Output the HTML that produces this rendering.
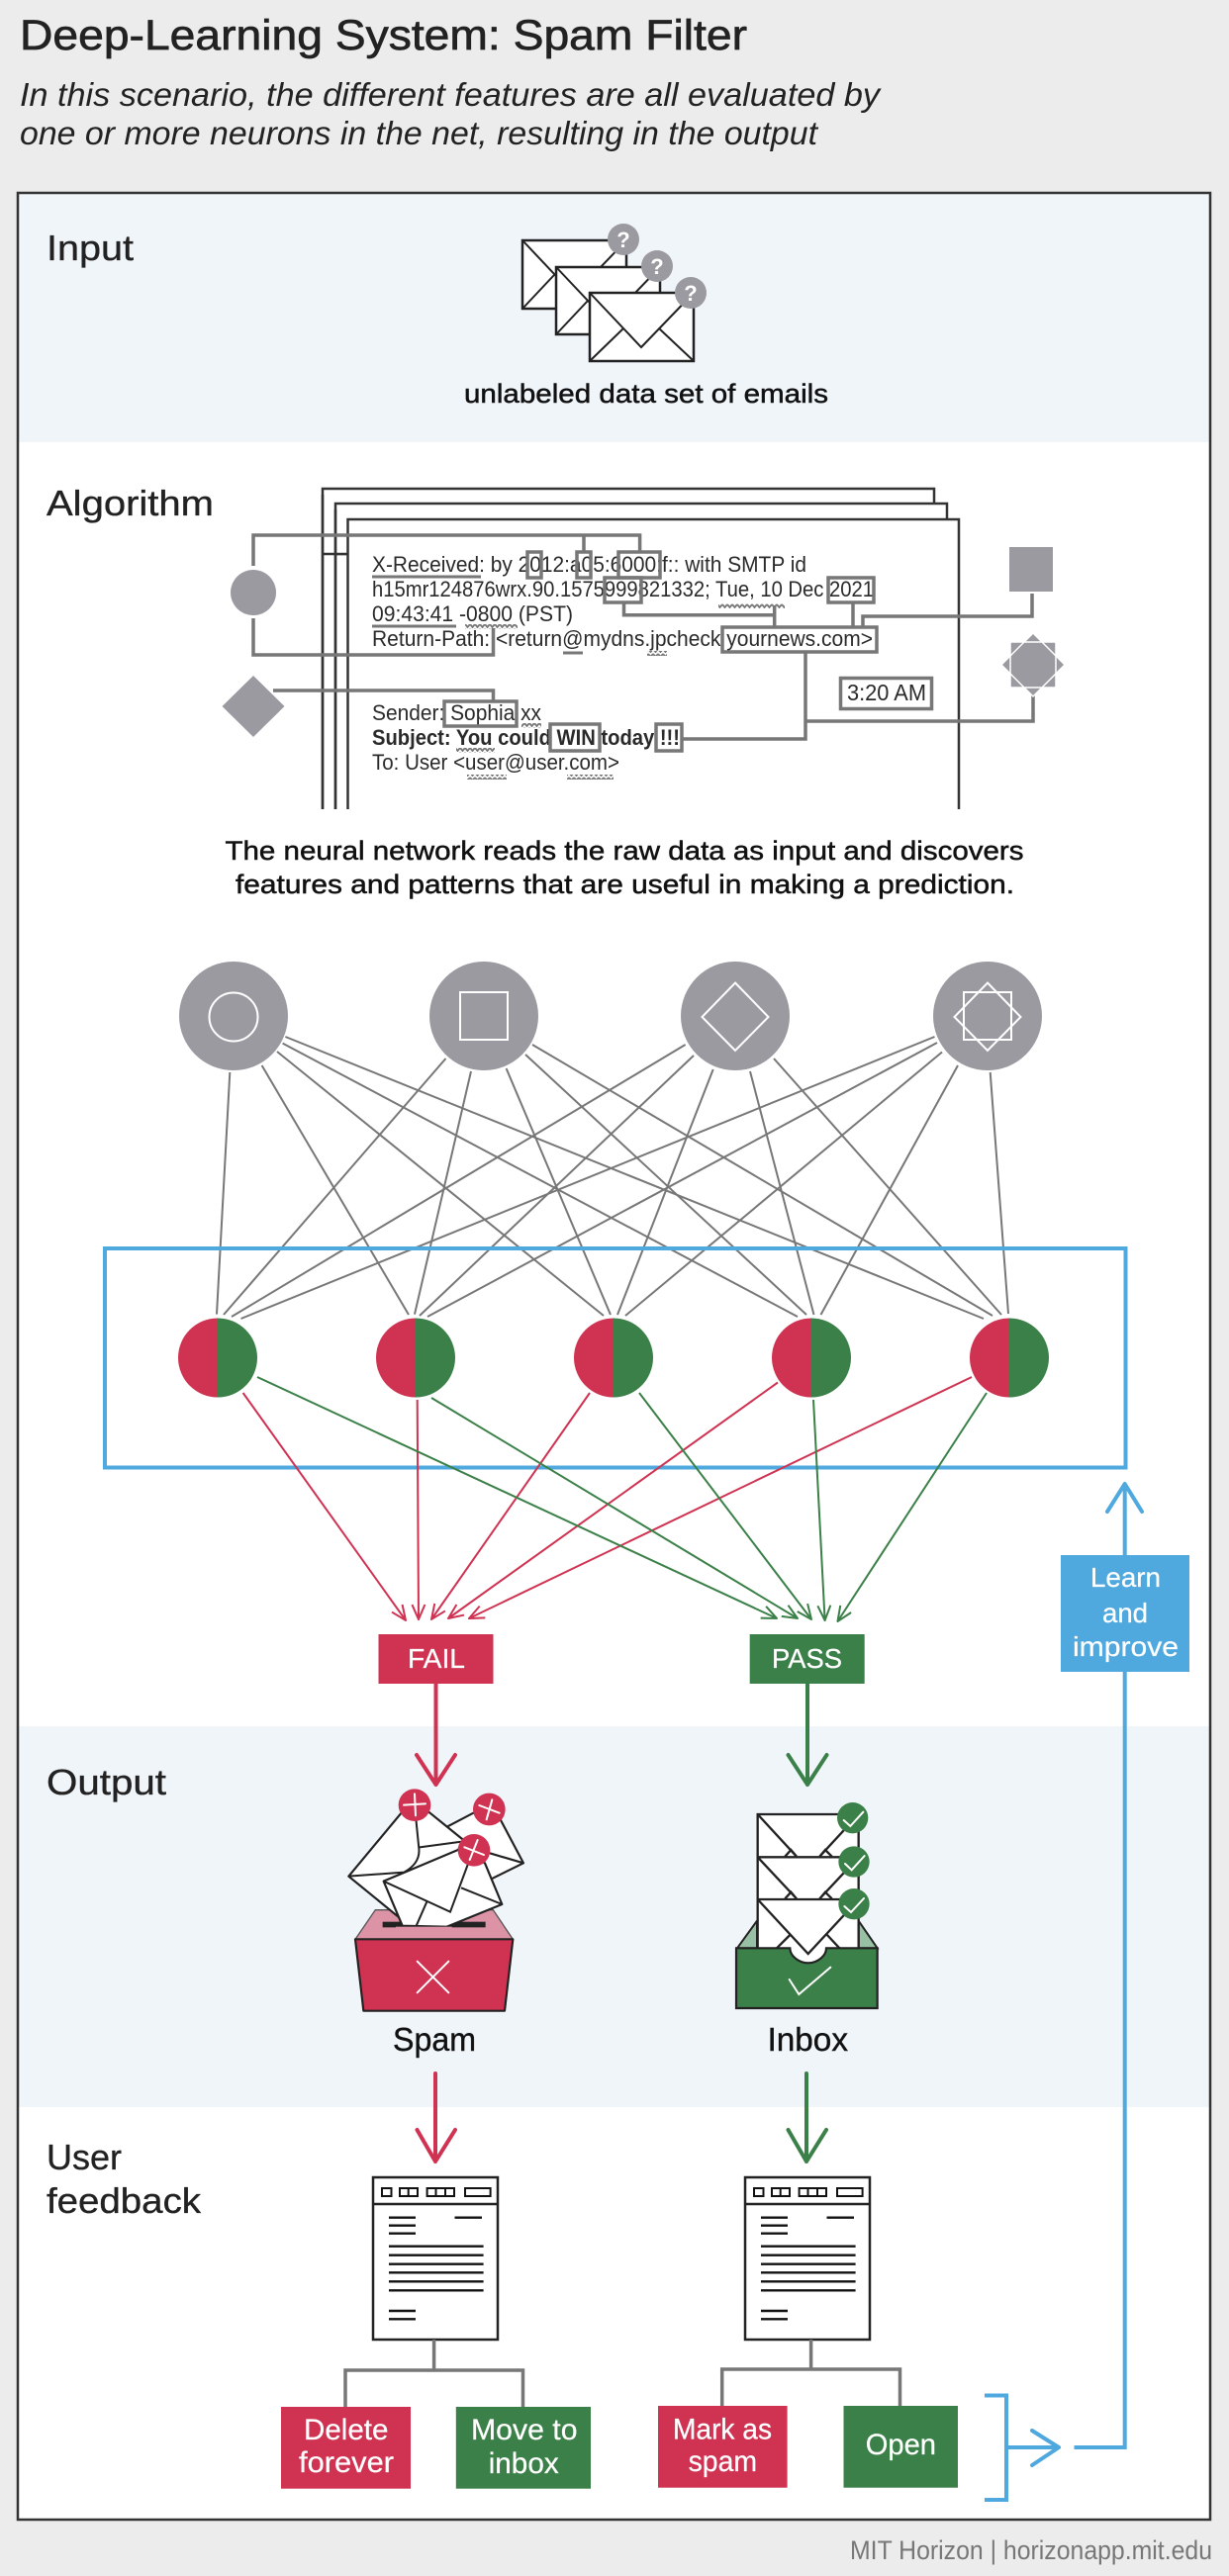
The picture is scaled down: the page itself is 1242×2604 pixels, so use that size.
<!DOCTYPE html>
<html><head><meta charset="utf-8"><title>Deep-Learning System: Spam Filter</title>
<style>
html,body{margin:0;padding:0;background:#ececec}
svg{display:block}
text{font-family:"Liberation Sans",sans-serif}
.e{font-size:22px;fill:#2a2a2a}
.c{font-size:27px;fill:#111;stroke:#111;stroke-width:.5}
.l{font-size:36px;fill:#222;stroke:#222;stroke-width:.35}
.w{font-size:30px;fill:#fff;stroke:#fff;stroke-width:.25}
.k{fill:none;stroke:#777;stroke-width:3.5}
.n line{stroke:#777;stroke-width:2}
.d{fill:#fff;stroke:#222;stroke-width:2.5}
.dl line{stroke:#111;stroke-width:2.4}
.env{fill:#fff;stroke:#222;stroke-width:6.5;stroke-linejoin:round}
</style></head><body>
<svg width="1242" height="2604" viewBox="0 0 1242 2604" xmlns="http://www.w3.org/2000/svg">
<defs>
<marker id="mr" markerUnits="userSpaceOnUse" markerWidth="17" markerHeight="16" refX="16" refY="8" orient="auto"><path d="M1,1.5 L16,8 L1,14.5" fill="none" stroke="#d03252" stroke-width="2"/></marker>
<marker id="mg" markerUnits="userSpaceOnUse" markerWidth="17" markerHeight="16" refX="16" refY="8" orient="auto"><path d="M1,1.5 L16,8 L1,14.5" fill="none" stroke="#3b8048" stroke-width="2"/></marker>
<pattern id="sq" patternUnits="userSpaceOnUse" width="5" height="5"><path d="M0,1 L2.5,4 L5,1" fill="none" stroke="#777" stroke-width="1.8"/></pattern>
</defs>
<rect width="1242" height="2604" fill="#ececec"/>

<text x="20" y="50" font-size="43" fill="#222" stroke="#222" stroke-width=".7" textLength="735" lengthAdjust="spacingAndGlyphs">Deep-Learning System: Spam Filter</text>
<text x="20" y="107" font-size="33" font-style="italic" fill="#222" textLength="869" lengthAdjust="spacingAndGlyphs">In this scenario, the different features are all evaluated by</text>
<text x="20" y="146" font-size="33" font-style="italic" fill="#222" textLength="806" lengthAdjust="spacingAndGlyphs">one or more neurons in the net, resulting in the output</text>

<!-- panel -->
<rect x="18" y="195" width="1205" height="2352" fill="#fff"/>
<rect x="18" y="195" width="1205" height="252" fill="#f0f5fa"/>
<rect x="18" y="1745" width="1205" height="385" fill="#f0f5fa"/>
<rect x="18" y="195" width="1205" height="2352" fill="none" stroke="#333" stroke-width="2.5"/>

<text class="l" x="47" y="263" textLength="88" lengthAdjust="spacingAndGlyphs">Input</text>
<text class="l" x="47" y="521" textLength="169" lengthAdjust="spacingAndGlyphs">Algorithm</text>
<text class="l" x="47" y="1814" textLength="121" lengthAdjust="spacingAndGlyphs">Output</text>
<text class="l" x="47" y="2193" textLength="76" lengthAdjust="spacingAndGlyphs">User</text>
<text class="l" x="47" y="2237" textLength="156" lengthAdjust="spacingAndGlyphs">feedback</text>

<!-- input envelopes -->
<g fill="#fff" stroke="#222" stroke-width="2.5">
<g><rect x="528" y="243" width="105" height="69"/><path d="M528,243 L580,298 L633,243 M528,312 L560,278 M633,312 L601,278" fill="none" stroke-width="2"/></g>
<g><rect x="562" y="270" width="105" height="68"/><path d="M562,270 L614,325 L667,270 M562,338 L594,304 M667,338 L635,304" fill="none" stroke-width="2"/></g>
<g><rect x="596" y="296" width="105" height="69"/><path d="M596,296 L648,351 L701,296 M597,364 L630,332 M700,364 L666,332" fill="none" stroke-width="2"/></g>
</g>
<g fill="#9b9aa1"><circle cx="630" cy="242" r="16"/><circle cx="664" cy="269" r="16"/><circle cx="698" cy="296" r="16"/></g>
<g fill="#fff" font-size="22" font-weight="bold" text-anchor="middle"><text x="630" y="250">?</text><text x="664" y="277">?</text><text x="698" y="304">?</text></g>
<text class="c" x="469" y="407" textLength="368" lengthAdjust="spacingAndGlyphs">unlabeled data set of emails</text>

<!-- pages -->
<g fill="#fff" stroke="#333" stroke-width="2.5">
<path d="M326,818 V494 H944 V560 H326"/>
<path d="M339,818 V509 H957 V560 H339"/>
<path d="M351.5,818 V525 H969 V818 H351.5" stroke="none"/>
<path d="M351.5,818 V525 H969 V818" fill="none"/>
</g>
<line x1="326" y1="500" x2="326" y2="818" stroke="#333" stroke-width="2.5"/>
<line x1="339" y1="515" x2="339" y2="818" stroke="#333" stroke-width="2.5"/>

<!-- email text -->
<text class="e" x="376" y="578" textLength="439" lengthAdjust="spacingAndGlyphs">X-Received: by 2012:a05:6000:f:: with SMTP id</text>
<text class="e" x="376" y="603" textLength="507" lengthAdjust="spacingAndGlyphs">h15mr124876wrx.90.1575999821332; Tue, 10 Dec 2021</text>
<text class="e" x="376" y="628" textLength="203" lengthAdjust="spacingAndGlyphs">09:43:41 -0800 (PST)</text>
<text class="e" x="376" y="653" textLength="506" lengthAdjust="spacingAndGlyphs">Return-Path: &lt;return@mydns.jpcheck yournews.com&gt;</text>
<text class="e" x="376" y="728" textLength="171" lengthAdjust="spacingAndGlyphs">Sender: Sophia xx</text>
<text class="e" x="376" y="753" font-weight="bold" textLength="311" lengthAdjust="spacingAndGlyphs">Subject: You could WIN today !!!</text>
<text class="e" x="376" y="778" textLength="250" lengthAdjust="spacingAndGlyphs">To: User &lt;user@user.com&gt;</text>

<!-- underlines -->
<g stroke="#777" stroke-width="3" fill="none">
<line x1="376" y1="583" x2="486" y2="583"/><line x1="376" y1="633" x2="461" y2="633"/><line x1="569" y1="660" x2="589" y2="660"/>
</g>
<g fill="url(#sq)">
<rect x="470" y="631" width="53" height="5"/><rect x="726" y="610" width="67" height="5"/><rect x="654" y="658" width="20" height="5"/>
<rect x="527" y="731" width="20" height="5"/><rect x="461" y="756" width="39" height="5"/><rect x="472" y="783" width="40" height="5"/><rect x="573" y="783" width="47" height="5"/>
</g>

<!-- feature boxes and connectors -->
<g class="k">
<rect x="533" y="558" width="14" height="26"/><rect x="583" y="558" width="14" height="26"/><rect x="625" y="558" width="42" height="26"/>
<rect x="611" y="584" width="37" height="25"/><rect x="837" y="584" width="46" height="25"/><rect x="730" y="634" width="156" height="25"/>
<rect x="449" y="709" width="73" height="25"/><rect x="556" y="732" width="50" height="27"/><rect x="663" y="732" width="26" height="27"/>
<path d="M256,572 V541 H646.6 V558 M590,541 V558"/>
<path d="M256,625 V662 H498.5 V635"/>
<path d="M630.5,609 V621.7 H782.7 V634 M782.7,612 V622"/>
<path d="M862,609 V634"/>
<path d="M1043,600 V623 H872 V634"/>
<path d="M814,659 V747 H689"/>
<path d="M814,729 H1044 V703"/>
<path d="M276,698 H498.5 V709"/>
</g>
<rect x="849.5" y="685.5" width="92" height="31" fill="#fff" stroke="#777" stroke-width="3.5"/>
<text class="e" x="856" y="708" style="font-size:23px" textLength="80" lengthAdjust="spacingAndGlyphs">3:20 AM</text>

<!-- feature icons -->
<g fill="#9b9aa1">
<circle cx="256" cy="599" r="23"/>
<rect x="1020" y="553" width="44" height="45"/>
<polygon points="256,683 287.5,714 256,745 224.5,714"/>
<rect x="1021" y="649" width="46" height="46"/>
<polygon points="1044,640 1076,672 1044,704 1012,672"/>
</g>
<polygon points="1044,640 1076,672 1044,704 1012,672" fill="none" stroke="#fff" stroke-width="1.5"/>
<rect x="1021" y="649" width="46" height="46" fill="none" stroke="#fff" stroke-width="1.5"/>

<text class="c" x="227.5" y="869" textLength="807" lengthAdjust="spacingAndGlyphs">The neural network reads the raw data as input and discovers</text>
<text class="c" x="238" y="903" textLength="787" lengthAdjust="spacingAndGlyphs">features and patterns that are useful in making a prediction.</text>

<!-- neural net -->
<g class="n">
<line x1="232.3" y1="1084" x2="219" y2="1328.6"/><line x1="264.6" y1="1077" x2="413" y2="1329"/><line x1="280" y1="1063" x2="610" y2="1330"/><line x1="285.6" y1="1054.6" x2="806" y2="1331"/><line x1="288.4" y1="1048" x2="994" y2="1333"/>
<line x1="450.5" y1="1070" x2="226" y2="1329"/><line x1="476" y1="1083" x2="419" y2="1328.6"/><line x1="511.6" y1="1080" x2="617" y2="1329"/><line x1="531" y1="1066" x2="815" y2="1329"/><line x1="538" y1="1056" x2="1003" y2="1330"/>
<line x1="692.6" y1="1056" x2="234" y2="1331"/><line x1="701" y1="1067" x2="424" y2="1330"/><line x1="720.7" y1="1081" x2="624" y2="1329"/><line x1="758" y1="1083" x2="822.5" y2="1329"/><line x1="782" y1="1070" x2="1012" y2="1329"/>
<line x1="944.5" y1="1048" x2="243.5" y2="1333"/><line x1="947" y1="1054" x2="432" y2="1331"/><line x1="952" y1="1063.5" x2="632" y2="1330"/><line x1="968" y1="1077" x2="829.5" y2="1329"/><line x1="1000.7" y1="1084" x2="1019" y2="1328"/>
</g>
<rect x="106" y="1262" width="1031.5" height="221.5" fill="none" stroke="#4fa8de" stroke-width="4"/>
<g fill="#9b9aa1"><circle cx="236" cy="1027" r="55"/><circle cx="489" cy="1027" r="55"/><circle cx="743" cy="1027" r="55"/><circle cx="998" cy="1027" r="55"/></g>
<g fill="none" stroke="#fff" stroke-width="2">
<circle cx="236" cy="1028" r="24.5"/>
<rect x="465" y="1003" width="48" height="48"/>
<polygon points="743,993.5 776.5,1028 743,1062 709.5,1028"/>
<rect x="974" y="1003" width="48" height="48"/>
<polygon points="998,993.5 1031.5,1028 998,1062 964.5,1028"/>
</g>
<g>
<path d="M220,1332.5 a40,40 0 0 0 0,80z" fill="#d03252"/><path d="M220,1332.5 a40,40 0 0 1 0,80z" fill="#3b8048"/>
<path d="M420,1332.5 a40,40 0 0 0 0,80z" fill="#d03252"/><path d="M420,1332.5 a40,40 0 0 1 0,80z" fill="#3b8048"/>
<path d="M620,1332.5 a40,40 0 0 0 0,80z" fill="#d03252"/><path d="M620,1332.5 a40,40 0 0 1 0,80z" fill="#3b8048"/>
<path d="M820,1332.5 a40,40 0 0 0 0,80z" fill="#d03252"/><path d="M820,1332.5 a40,40 0 0 1 0,80z" fill="#3b8048"/>
<path d="M1020,1332.5 a40,40 0 0 0 0,80z" fill="#d03252"/><path d="M1020,1332.5 a40,40 0 0 1 0,80z" fill="#3b8048"/>
</g>
<g stroke="#d03252" stroke-width="2">
<line x1="245.6" y1="1408" x2="410" y2="1638" marker-end="url(#mr)"/>
<line x1="421.7" y1="1415" x2="423" y2="1637" marker-end="url(#mr)"/>
<line x1="596" y1="1408" x2="436" y2="1637" marker-end="url(#mr)"/>
<line x1="786" y1="1397.5" x2="453" y2="1636" marker-end="url(#mr)"/>
<line x1="982" y1="1392" x2="474" y2="1636" marker-end="url(#mr)"/>
</g>
<g stroke="#3b8048" stroke-width="2">
<line x1="260" y1="1392" x2="785" y2="1636" marker-end="url(#mg)"/>
<line x1="436" y1="1413" x2="806" y2="1636" marker-end="url(#mg)"/>
<line x1="646" y1="1408" x2="820" y2="1637" marker-end="url(#mg)"/>
<line x1="822" y1="1415" x2="833.6" y2="1638" marker-end="url(#mg)"/>
<line x1="997" y1="1408" x2="846.5" y2="1639" marker-end="url(#mg)"/>
</g>

<!-- FAIL / PASS -->
<rect x="382.5" y="1652" width="116" height="50" fill="#d03252"/>
<rect x="757.7" y="1652" width="116" height="50" fill="#3b8048"/>
<text x="412" y="1686" font-size="28" fill="#fff" stroke="#fff" stroke-width=".25" textLength="58" lengthAdjust="spacingAndGlyphs">FAIL</text>
<text x="780" y="1686" font-size="28" fill="#fff" stroke="#fff" stroke-width=".25" textLength="71" lengthAdjust="spacingAndGlyphs">PASS</text>
<g fill="none" stroke-width="4" stroke-linecap="round" stroke-linejoin="round">
<path d="M440.5,1702 V1804 M421,1774 L440.5,1804 L460,1774" stroke="#d03252"/>
<path d="M816,1702 V1804 M796.5,1774 L816,1804 L835.5,1774" stroke="#3b8048"/>
<path d="M440,2096 V2185 M421.5,2153 L440,2185 L460,2153" stroke="#d03252"/>
<path d="M815,2096 V2185 M796.5,2153 L815,2185 L835,2153" stroke="#3b8048"/>
</g>

<!-- Spam box -->
<g transform="translate(340,1780) scale(.33333)">
<polygon points="57,541 118,452 475,452 535,541" fill="#dd93a6" stroke="#555" stroke-width="4"/>
<rect x="140" y="488" width="312" height="17" fill="#222"/>
<path class="env" d="M335,200 L415,158 L497,178 L567,310 L470,358 L400,300z"/>
<path d="M465,280 L567,310" fill="none" stroke="#222" stroke-width="6.5"/>
<path class="env" d="M37,350 L195,160 L237,135 L280,155 L385,240 L300,400 L200,500 L190,475z"/>
<path d="M37,350 L205,338 Q255,310 250,265 L237,135 M252,262 L380,245" fill="none" stroke="#222" stroke-width="6"/>
<path class="env" d="M143,365 L200,500 L335,503 L502,435 L450,310 L380,265z"/>
<path d="M143,365 L345,458 L398,315 M378,385 L502,435 M275,425 L240,505" fill="none" stroke="#222" stroke-width="6"/>
<rect x="180" y="503" width="170" height="5" fill="#dd93a6"/>
<path d="M57,541 H535 L510,758 H82z" fill="#d03252" stroke="#222" stroke-width="6.5" stroke-linejoin="round"/>
<path d="M245,608 L340,703 M340,608 L245,703" stroke="#fff" stroke-width="6" stroke-linecap="round"/>
<g fill="#d03252"><circle cx="237" cy="134" r="49"/><circle cx="463" cy="147" r="49"/><circle cx="417" cy="271" r="49"/></g>
<g stroke="#fff" stroke-width="6" stroke-linecap="round">
<path d="M204,134 L270,130 M237,100 L240,166"/>
<path d="M433,135 L494,158 M472,118 L455,178"/>
<path d="M388,262 L447,285 M428,240 L404,300"/>
</g>
</g>
<text x="397" y="2073" font-size="33" fill="#111" stroke="#111" stroke-width=".4" textLength="84" lengthAdjust="spacingAndGlyphs">Spam</text>

<!-- Inbox -->
<g transform="translate(730,1800) scale(.33333)">
<polygon points="45,508 105,425 105,508" fill="#97c0a4" stroke="#222" stroke-width="6"/>
<polygon points="470,508 413,425 413,508" fill="#97c0a4" stroke="#222" stroke-width="6"/>
<path d="M107,600 V102 H413 V600z" fill="#fff" stroke="#222" stroke-width="7"/>
<g fill="none" stroke="#222" stroke-width="7">
<path d="M107,232 H413 M107,360 H413"/>
<path d="M107,102 L225,230 M413,102 L295,230 M190,230 L208,210 L225,230 M295,230 L312,210 L332,230"/>
<path d="M107,232 L225,358 M413,232 L295,358 M190,358 L208,338 L225,358 M295,358 L312,338 L332,358"/>
<path d="M107,360 L260,525 L413,360 M165,508 L208,465 M355,508 L315,465"/>
</g>
<path d="M42,508 H205 C205,530 230,553 260,553 C290,553 315,530 315,508 H470 V690 H42z" fill="#3b8048" stroke="#222" stroke-width="6.5"/>
<path d="M203,603 L232,648 L328,566" fill="none" stroke="#fff" stroke-width="6" stroke-linecap="round"/>
<g fill="#3b8048"><circle cx="395" cy="113" r="47"/><circle cx="399" cy="246" r="47"/><circle cx="399" cy="374" r="47"/></g>
<g fill="none" stroke="#fff" stroke-width="6" stroke-linecap="round">
<path d="M368,120 L388,138 L427,95"/>
<path d="M372,252 L392,271 L431,228"/>
<path d="M370,381 L390,399 L429,357"/>
</g>
</g>
<text x="775.5" y="2073" font-size="33" fill="#111" stroke="#111" stroke-width=".4" textLength="81.5" lengthAdjust="spacingAndGlyphs">Inbox</text>

<!-- Docs -->
<g>
<rect class="d" x="377" y="2201" width="126" height="164"/><line x1="377" y1="2228" x2="503" y2="2228" stroke="#222" stroke-width="2.5"/>
<g fill="none" stroke="#111" stroke-width="2"><rect x="386" y="2212" width="9.5" height="8"/><rect x="404" y="2212" width="18" height="8"/><line x1="412.7" y1="2212" x2="412.7" y2="2220"/><rect x="431.6" y="2212" width="27.4" height="8"/><line x1="440.5" y1="2212" x2="440.5" y2="2220"/><line x1="450" y1="2212" x2="450" y2="2220"/><rect x="470" y="2212" width="25.6" height="8"/></g>
<g class="dl"><line x1="393" y1="2241.7" x2="420" y2="2241.7"/><line x1="393" y1="2249.7" x2="420" y2="2249.7"/><line x1="393" y1="2257.7" x2="420" y2="2257.7"/><line x1="459.5" y1="2241.7" x2="487" y2="2241.7"/>
<line x1="393" y1="2270.7" x2="488.6" y2="2270.7"/><line x1="393" y1="2279.7" x2="488.6" y2="2279.7"/><line x1="393" y1="2288.7" x2="488.6" y2="2288.7"/><line x1="393" y1="2297.3" x2="488.6" y2="2297.3"/><line x1="393" y1="2306.3" x2="488.6" y2="2306.3"/><line x1="393" y1="2315.3" x2="488.6" y2="2315.3"/>
<line x1="393" y1="2336" x2="420" y2="2336"/><line x1="393" y1="2344.3" x2="420" y2="2344.3"/></g>
</g>
<g transform="translate(376,0)">
<rect class="d" x="377" y="2201" width="126" height="164"/><line x1="377" y1="2228" x2="503" y2="2228" stroke="#222" stroke-width="2.5"/>
<g fill="none" stroke="#111" stroke-width="2"><rect x="386" y="2212" width="9.5" height="8"/><rect x="404" y="2212" width="18" height="8"/><line x1="412.7" y1="2212" x2="412.7" y2="2220"/><rect x="431.6" y="2212" width="27.4" height="8"/><line x1="440.5" y1="2212" x2="440.5" y2="2220"/><line x1="450" y1="2212" x2="450" y2="2220"/><rect x="470" y="2212" width="25.6" height="8"/></g>
<g class="dl"><line x1="393" y1="2241.7" x2="420" y2="2241.7"/><line x1="393" y1="2249.7" x2="420" y2="2249.7"/><line x1="393" y1="2257.7" x2="420" y2="2257.7"/><line x1="459.5" y1="2241.7" x2="487" y2="2241.7"/>
<line x1="393" y1="2270.7" x2="488.6" y2="2270.7"/><line x1="393" y1="2279.7" x2="488.6" y2="2279.7"/><line x1="393" y1="2288.7" x2="488.6" y2="2288.7"/><line x1="393" y1="2297.3" x2="488.6" y2="2297.3"/><line x1="393" y1="2306.3" x2="488.6" y2="2306.3"/><line x1="393" y1="2315.3" x2="488.6" y2="2315.3"/>
<line x1="393" y1="2336" x2="420" y2="2336"/><line x1="393" y1="2344.3" x2="420" y2="2344.3"/></g>
</g>
<g class="k">
<path d="M438.6,2365 V2396 M349,2433 V2396 H528.5 V2433"/>
<path d="M819.6,2365 V2395 M729.7,2432 V2395 H909.5 V2432"/>
</g>

<rect x="284" y="2433" width="131" height="82.7" fill="#d03252"/>
<rect x="460.8" y="2433" width="136.2" height="82.7" fill="#3b8048"/>
<rect x="665" y="2432" width="130.6" height="82.7" fill="#d03252"/>
<rect x="852.5" y="2432" width="115.5" height="82.7" fill="#3b8048"/>
<text class="w" x="307" y="2466" textLength="85.4" lengthAdjust="spacingAndGlyphs">Delete</text>
<text class="w" x="302" y="2499" textLength="96" lengthAdjust="spacingAndGlyphs">forever</text>
<text class="w" x="476" y="2466" textLength="107.5" lengthAdjust="spacingAndGlyphs">Move to</text>
<text class="w" x="493.7" y="2500" textLength="71" lengthAdjust="spacingAndGlyphs">inbox</text>
<text class="w" x="680" y="2465.7" textLength="100" lengthAdjust="spacingAndGlyphs">Mark as</text>
<text class="w" x="695.6" y="2498" textLength="69.4" lengthAdjust="spacingAndGlyphs">spam</text>
<text class="w" x="874.7" y="2481" textLength="71.3" lengthAdjust="spacingAndGlyphs">Open</text>

<!-- feedback loop -->
<g fill="none" stroke="#4fa8de" stroke-width="4">
<path d="M995,2421.5 H1017 V2527 H995"/>
<path d="M1017,2474 H1069"/>
<path d="M1043,2457 L1070,2474 L1043,2492" stroke-linecap="round" stroke-linejoin="round"/>
<path d="M1085.5,2474 H1136.7 V1502"/>
<path d="M1119,1528 L1136.7,1500 L1154,1528" stroke-linecap="round" stroke-linejoin="round"/>
</g>
<rect x="1072" y="1572" width="130" height="118" fill="#4fa8de"/>
<text x="1102" y="1604" font-size="28" fill="#fff" stroke="#fff" stroke-width=".25" textLength="71" lengthAdjust="spacingAndGlyphs">Learn</text>
<text x="1114" y="1640" font-size="28" fill="#fff" stroke="#fff" stroke-width=".25" textLength="46" lengthAdjust="spacingAndGlyphs">and</text>
<text x="1084" y="1674" font-size="28" fill="#fff" stroke="#fff" stroke-width=".25" textLength="107" lengthAdjust="spacingAndGlyphs">improve</text>

<text x="859" y="2587" font-size="27" fill="#777" textLength="366" lengthAdjust="spacingAndGlyphs">MIT Horizon | horizonapp.mit.edu</text>
</svg>
</body></html>
